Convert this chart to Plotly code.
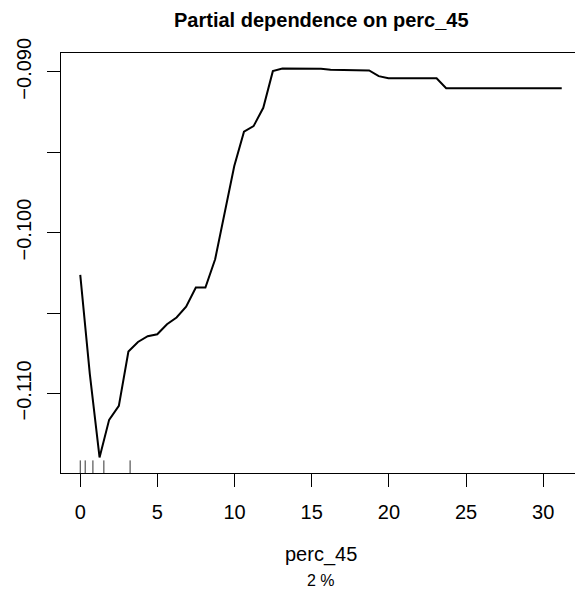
import plotly.graph_objects as go

# Partial dependence grid (perc_45) and predicted values
perc_45 = [0.0, 0.62, 1.25, 1.87, 2.5, 3.12, 3.74, 4.37, 4.99, 5.62,
           6.24, 6.86, 7.49, 8.11, 8.74, 9.36, 9.98, 10.61, 11.23, 11.86,
           12.48, 13.1, 13.73, 14.35, 14.98, 15.6, 16.22, 16.85, 17.47, 18.1,
           18.72, 19.34, 19.97, 20.59, 21.22, 21.84, 22.46, 23.09, 23.71, 24.34,
           24.96, 25.58, 26.21, 26.83, 27.46, 28.08, 28.7, 29.33, 29.95, 30.58,
           31.2]
pdep = [-0.10263, -0.10880, -0.11398, -0.11164, -0.11077, -0.10739, -0.10680,
        -0.10644, -0.10632, -0.10570, -0.10528, -0.10460, -0.10342, -0.10342,
        -0.10166, -0.09868, -0.09586, -0.09373, -0.09338, -0.09224, -0.08996,
        -0.08980, -0.08980, -0.08980, -0.08980, -0.08981, -0.08988, -0.08989,
        -0.08990, -0.08991, -0.08992, -0.09027, -0.09040, -0.09040, -0.09040,
        -0.09040, -0.09040, -0.09040, -0.09102, -0.09102, -0.09102, -0.09102,
        -0.09102, -0.09102, -0.09102, -0.09102, -0.09102, -0.09102, -0.09102,
        -0.09102, -0.09102]
# rug (deciles of perc_45)
rug_x = [0.0, 0.32, 0.82, 1.53, 3.23]

x_ticks = [0, 5, 10, 15, 20, 25, 30]
y_ticks = [-0.110, -0.105, -0.100, -0.095, -0.090]
y_ticktext = ["\u22120.110", "", "\u22120.100", "", "\u22120.090"]

title_text = "Partial dependence on perc_45"
x_label = "perc_45"
sub_label = "2 %"

FONT = "Liberation Sans, Arial, Helvetica, sans-serif"

def ext(v):
    lo, hi = min(v), max(v)
    d = (hi - lo) * 0.04
    return [lo - d, hi + d]

fig = go.Figure()
fig.add_trace(go.Scatter(x=perc_45, y=pdep, mode="lines",
                         line=dict(color="black", width=2),
                         showlegend=False, hoverinfo="x+y"))

for rx in rug_x:
    fig.add_shape(type="line", xref="x", yref="paper", x0=rx, x1=rx,
                  y0=0, y1=0.03, line=dict(color="#333333", width=1))

axis_common = dict(showline=True, linecolor="black", linewidth=1.4,
                   mirror=True, ticks="outside", ticklen=13, tickwidth=1.3,
                   tickcolor="black", showgrid=False, zeroline=False,
                   automargin=False,
                   tickfont=dict(family=FONT, size=20, color="black"))

fig.update_xaxes(range=ext(perc_45), tickmode="array", tickvals=x_ticks,
                 ticktext=[str(t) for t in x_ticks], ticklabelstandoff=8,
                 **axis_common)
fig.update_yaxes(range=ext(pdep), tickmode="array", tickvals=y_ticks,
                 ticktext=y_ticktext, tickangle=-90, ticklabelstandoff=8,
                 **axis_common)

# the page body adds an 8px offset; the layout is shifted to compensate
PLOT_TOP = 45.3
PLOT_H = 420.0
fig.add_annotation(text="<b>" + title_text + "</b>", xref="paper", yref="paper",
                   x=0.5, y=1 + (PLOT_TOP - 12) / PLOT_H, xanchor="center",
                   yanchor="middle", showarrow=False,
                   font=dict(family=FONT, size=20, color="black"))
fig.add_annotation(text=x_label, xref="paper", yref="paper",
                   x=0.5, y=-(555 - 473.3) / PLOT_H, xanchor="center",
                   yanchor="middle", showarrow=False,
                   font=dict(family=FONT, size=20, color="black"))
fig.add_annotation(text=sub_label, xref="paper", yref="paper",
                   x=0.5, y=-(580.5 - 473.3) / PLOT_H, xanchor="center",
                   yanchor="middle", showarrow=False,
                   font=dict(family=FONT, size=16, color="black"))

fig.update_layout(width=575, height=585, plot_bgcolor="white",
                  paper_bgcolor="white",
                  margin=dict(l=53, r=2, t=45, b=120, pad=0),
                  font=dict(family=FONT, color="black"))

fig.write_html("out.html")
